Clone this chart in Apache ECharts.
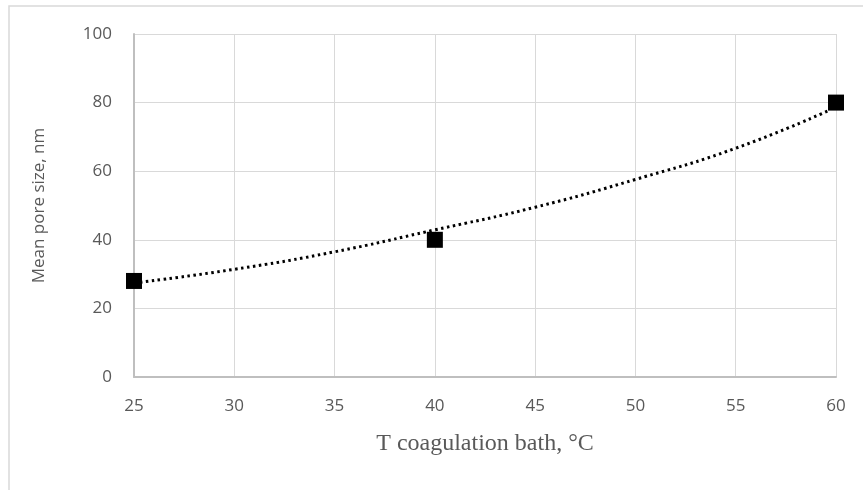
<!DOCTYPE html>
<html>
<head>
<meta charset="utf-8">
<script src="https://cdn.jsdelivr.net/npm/echarts@6/dist/echarts.min.js"></script>
<style>
  html, body { margin: 0; padding: 0; background: #fff; }
  #chart { width: 863px; height: 490px; }
</style>
</head>
<body>
<div id="chart"></div>
<script>
// measured points
const tempX = [25, 40, 60];
const poreSize = [28, 40, 80];
// dotted trend line
const trendX = [25, 30, 35, 40, 45, 50, 55, 59.6];
const trendY = [27.4, 31.4, 36.5, 42.9, 49.5, 57.6, 66.7, 77.6];

const chart = echarts.init(document.getElementById("chart"));

chart.setOption({
  animation: false,
  graphic: [
    {
      type: "rect",
      shape: { x: 9, y: 6, width: 870, height: 500 },
      style: { fill: "none", stroke: "#d9d9d9", lineWidth: 1.5 },
      silent: true
    }
  ],
  grid: { left: 134, right: 27, top: 34, bottom: 113 },
  xAxis: {
    type: "value",
    min: 25,
    max: 60,
    interval: 5,
    name: "T coagulation bath, °C",
    nameLocation: "middle",
    nameGap: 55,
    nameTextStyle: { fontFamily: "Liberation Serif", fontSize: 24, color: "#595959" },
    axisLine: { show: true, lineStyle: { color: "#bfbfbf", width: 2 } },
    axisTick: { show: false },
    axisLabel: { fontFamily: "Open Sans", fontSize: 17, color: "#595959", margin: 21 },
    splitLine: { show: true, lineStyle: { color: "#d9d9d9", width: 1 } }
  },
  yAxis: {
    type: "value",
    min: 0,
    max: 100,
    interval: 20,
    name: "Mean pore size, nm",
    nameLocation: "middle",
    nameGap: 86,
    nameTextStyle: { fontFamily: "Open Sans", fontSize: 17, color: "#595959" },
    axisLine: { show: true, lineStyle: { color: "#bfbfbf", width: 2 } },
    axisTick: { show: false },
    axisLabel: { fontFamily: "Open Sans", fontSize: 17, color: "#595959", margin: 22 },
    splitLine: { show: true, lineStyle: { color: "#d9d9d9", width: 1 } }
  },
  series: [
    {
      name: "trend",
      type: "line",
      smooth: true,
      showSymbol: false,
      data: trendX.map((x, i) => [x, trendY[i]]),
      lineStyle: { color: "#000", width: 3, type: [2.5, 3.5] },
      z: 2
    },
    {
      name: "data",
      type: "scatter",
      symbol: "rect",
      symbolSize: 16,
      data: tempX.map((x, i) => [x, poreSize[i]]),
      itemStyle: { color: "#000", opacity: 1 },
      z: 3
    }
  ]
});
</script>
</body>
</html>
